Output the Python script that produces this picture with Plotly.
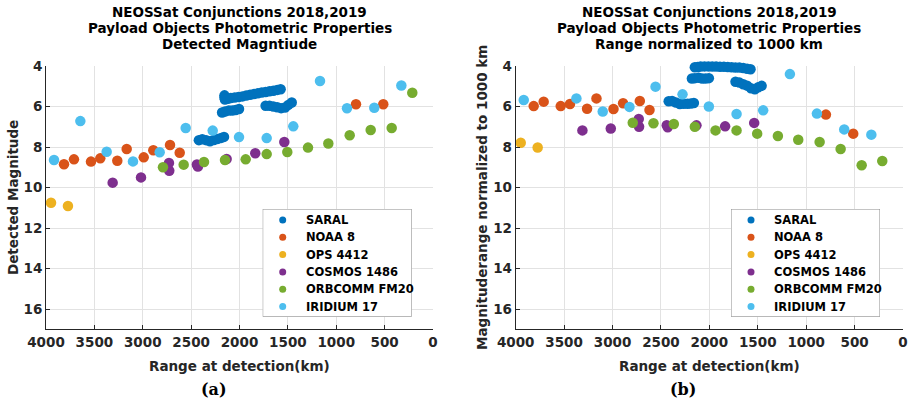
import plotly.graph_objects as go

# ---------------------------------------------------------------------------
# Conjunction observations: range at detection (km), detected magnitude and
# magnitude normalised to a 1000 km range (None = off the plotted scale)
# ---------------------------------------------------------------------------
names = ["SARAL", "NOAA 8", "OPS 4412", "COSMOS 1486", "ORBCOMM FM20", "IRIDIUM 17"]
colors = ["#0072BD", "#D95319", "#EDB120", "#7E2F8E", "#77AC30", "#4DBEEE"]

saral_range = [2420, 2385, 2345, 2305, 2265, 2225, 2190, 2160,
               2180, 2150, 2110, 2075, 2040, 2005,
               2155, 2155, 2150, 2120, 2090, 2050, 2010, 1970, 1930, 1890,
               1850, 1810, 1770, 1730, 1690, 1650, 1610, 1575,
               1730, 1690, 1650, 1610, 1570, 1530, 1495, 1460]
saral_mag = [7.66, 7.62, 7.66, 7.72, 7.65, 7.60, 7.55, 7.50,
             6.30, 6.25, 6.20, 6.20, 6.17, 6.12,
             5.45, 5.55, 5.65, 5.62, 5.58, 5.56, 5.53, 5.50, 5.46, 5.42,
             5.38, 5.35, 5.31, 5.28, 5.25, 5.22, 5.18, 5.15,
             5.96, 5.96, 6.00, 6.04, 6.08, 6.05, 5.92, 5.80]
saral_norm = [5.74, 5.73, 5.80, 5.88, 5.86, 5.86, 5.85, 5.83,
              4.62, 4.60, 4.58, 4.62, 4.62, 4.60,
              None, None, 4.06, 4.05, 4.03, 4.02, 4.02, 4.03, 4.03, 4.04,
              4.04, 4.05, 4.06, 4.07, 4.08, 4.10, 4.14, 4.16,
              4.78, 4.82, 4.90, 4.97, 5.10, 5.15, 5.05, 4.98]

noaa_range = [3814, 3711, 3535, 3439, 3263, 3166, 2990, 2891, 2718, 2618, 796, 514]
noaa_mag = [8.85, 8.61, 8.72, 8.56, 8.68, 8.10, 8.51, 8.16, 7.90, 8.28, 5.89, 5.89]
noaa_norm = [5.98, 5.76, 5.98, 5.88, 6.11, 5.60, 6.12, 5.84, 5.73, 6.17, 6.40, 7.34]

ops_range = [3948, 3773]
ops_mag = [10.75, 10.91]
ops_norm = [7.79, 8.02]

cosmos_range = [3311, 3018, 2729, 2726, 2440, 2430, 2133, 1837, 1537]
cosmos_mag = [9.76, 9.50, 8.79, 9.17, 8.86, 8.96, 8.59, 8.31, 7.75]
cosmos_norm = [7.18, 7.09, 6.62, 7.00, 6.92, 7.03, 6.93, 6.98, 6.81]

orbcomm_range = [2791, 2577, 2367, 2150, 1936, 1719, 1506, 1292, 1082, 861, 644, 427, 214]
orbcomm_mag = [9.00, 8.87, 8.74, 8.64, 8.61, 8.35, 8.25, 8.03, 7.83, 7.42, 7.16, 7.06, 5.32]
orbcomm_norm = [6.80, 6.83, 6.86, 7.00, 7.18, 7.18, 7.34, 7.46, 7.64, 7.75, 8.10, 8.90, 8.69]

iridium_range = [3917, 3645, 3373, 3101, 2825, 2556, 2277, 2005, 1719, 1444, 1168, 889, 607, 327]
iridium_mag = [8.64, 6.72, 8.23, 8.71, 8.26, 7.06, 7.19, 7.51, 7.56, 6.98, 4.74, 6.09, 6.06, 4.96]
iridium_norm = [5.68, None, 5.60, 6.25, 6.02, 5.02, 5.40, 6.00, 6.37, 6.19, 4.40, 6.35, 7.13, 7.39]

ranges = [saral_range, noaa_range, ops_range, cosmos_range, orbcomm_range, iridium_range]
mags = [saral_mag, noaa_mag, ops_mag, cosmos_mag, orbcomm_mag, iridium_mag]
norms = [saral_norm, noaa_norm, ops_norm, cosmos_norm, orbcomm_norm, iridium_norm]

x_ticks = list(range(0, 4001, 500))
y_ticks = [4, 6, 8, 10, 12, 14, 16]

W, H = 910, 400
FONT = "DejaVu Sans"


def px(x):
    return x / W


def py(y):
    return 1 - y / H


fig = go.Figure()

# data markers for both panels
for name, col, r, m, n in zip(names, colors, ranges, mags, norms):
    fig.add_trace(go.Scatter(x=r, y=m, mode="markers", name=name,
                             marker=dict(size=10.5, color=col, line=dict(width=0)),
                             xaxis="x", yaxis="y", showlegend=False,
                             cliponaxis=False))
    fig.add_trace(go.Scatter(x=r, y=n, mode="markers", name=name,
                             marker=dict(size=10.5, color=col, line=dict(width=0)),
                             xaxis="x2", yaxis="y2", showlegend=False,
                             cliponaxis=False))

axis_common = dict(showgrid=True, gridcolor="#e2e2e2", gridwidth=1,
                   showline=True, linecolor="#262626", linewidth=1,
                   ticks="inside", ticklen=4, tickcolor="#262626",
                   zeroline=False, mirror=False,
                   tickfont=dict(family=FONT, size=13.5, color="#262626", weight="bold"))

xdom_a = [px(46), px(433)]
xdom_b = [px(515.7), px(903)]
ydom = [py(329.3), py(66)]

# legend panels: small pixel-unit axes placed over the lower right of each plot
LEG_W, LEG_H = 149, 107.7
leg_boxes = [(262.7, 209), (731, 209)]
leg_rows = [11 + 17.3 * i for i in range(len(names))]
leg_axes = [("x3", "y3"), ("x4", "y4")]

hidden_axis = dict(visible=False, showgrid=False, zeroline=False, fixedrange=True)

fig.update_layout(
    width=W, height=H,
    margin=dict(l=0, r=0, t=0, b=0),
    paper_bgcolor="white", plot_bgcolor="white",
    showlegend=False,
    xaxis=dict(domain=xdom_a, range=[4000, 0], tickvals=x_ticks, anchor="y",
               automargin=False, **axis_common),
    yaxis=dict(domain=ydom, range=[17, 4], tickvals=y_ticks, anchor="x",
               automargin=False, **axis_common),
    xaxis2=dict(domain=xdom_b, range=[4000, 0], tickvals=x_ticks, anchor="y2",
                automargin=False, **axis_common),
    yaxis2=dict(domain=ydom, range=[17, 4], tickvals=y_ticks, anchor="x2",
                automargin=False, **axis_common),
)

for (lx, ly), (xa, ya) in zip(leg_boxes, leg_axes):
    xkey = "xaxis" + xa[1:]
    ykey = "yaxis" + ya[1:]
    fig.update_layout({
        xkey: dict(domain=[px(lx), px(lx + LEG_W)], range=[0, LEG_W], anchor=ya, **hidden_axis),
        ykey: dict(domain=[py(ly + LEG_H), py(ly)], range=[LEG_H, 0], anchor=xa, **hidden_axis),
    })

shapes = []
ann = []
leg_font = dict(family=FONT, size=11.5, color="#000000", weight="bold")
for xa, ya in leg_axes:
    shapes.append(dict(type="rect", xref=xa, yref=ya, x0=0, x1=LEG_W, y0=0, y1=LEG_H,
                       line=dict(color="#8a8a8a", width=1), fillcolor="white",
                       layer="below"))
    for name, col, row in zip(names, colors, leg_rows):
        fig.add_trace(go.Scatter(x=[20], y=[row], mode="markers", name=name,
                                 marker=dict(size=7, color=col),
                                 xaxis=xa, yaxis=ya, showlegend=False,
                                 hoverinfo="skip", cliponaxis=False))
        ann.append(dict(text=name, x=41, y=row, xref=xa, yref=ya,
                        xanchor="left", yanchor="middle", showarrow=False,
                        font=leg_font))

title_font = dict(family=FONT, size=13.5, color="#000000", weight="bold")
label_font = dict(family=FONT, size=13.5, color="#262626", weight="bold")

titles_a = ["NEOSSat Conjunctions 2018,2019",
            "Payload Objects Photometric Properties",
            "Detected Magntiude"]
titles_b = ["NEOSSat Conjunctions 2018,2019",
            "Payload Objects Photometric Properties",
            "Range normalized to 1000 km"]
line_y = [12.0, 27.8, 43.6]

for cx, lines in ((239.5, titles_a), (709.3, titles_b)):
    for text, ly in zip(lines, line_y):
        ann.append(dict(text=text, x=px(cx), y=py(ly), xref="paper", yref="paper",
                        xanchor="center", yanchor="middle", showarrow=False,
                        font=title_font))

for cx in (239.5, 709.3):
    ann.append(dict(text="Range at detection(km)", x=px(cx), y=py(365.5),
                    xref="paper", yref="paper", xanchor="center", yanchor="middle",
                    showarrow=False, font=label_font))

ann.append(dict(text="Detected Magnitude", x=px(12.5), y=py(197.5), xref="paper",
                yref="paper", xanchor="center", yanchor="middle", textangle=-90,
                showarrow=False, font=label_font))
ann.append(dict(text="Magnituderange normalized to 1000 km", x=px(481.5), y=py(197.5),
                xref="paper", yref="paper", xanchor="center", yanchor="middle",
                textangle=-90, showarrow=False, font=label_font))

panel_font = dict(family="DejaVu Serif", size=16, color="#000000", weight="bold")
for cx, lab in ((213.5, "(a)"), (683, "(b)")):
    ann.append(dict(text=lab, x=px(cx), y=py(389), xref="paper", yref="paper",
                    xanchor="center", yanchor="middle", showarrow=False,
                    font=panel_font))

fig.update_layout(annotations=ann, shapes=shapes)

fig.write_html("out.html")
